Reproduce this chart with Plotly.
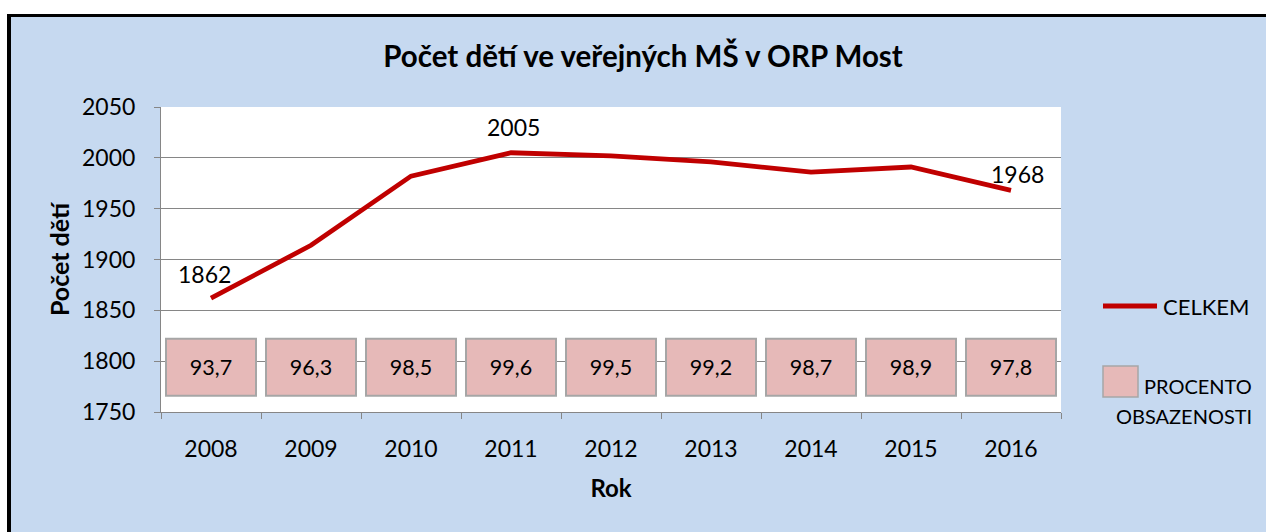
import plotly.graph_objects as go

years = ["2008", "2009", "2010", "2011", "2012", "2013", "2014", "2015", "2016"]
children = [1862, 1914, 1982, 2005, 2002, 1996, 1986, 1991, 1968]
occupancy = [93.7, 96.3, 98.5, 99.6, 99.5, 99.2, 98.7, 98.9, 97.8]
labelled = {"2008": (-7, 24), "2011": (2, 26), "2016": (6, 16)}
box_base = 1766
box_height = 56

FONT = "Lato"
W, H = 1266, 532
L, R, T, B = 161, 1061, 107, 412

def px(x):
    return (x - L) / (R - L)

def py(y):
    return (B - y) / (B - T)

fig = go.Figure()

fig.add_trace(go.Bar(
    x=years,
    y=[box_height] * len(years),
    base=[box_base] * len(years),
    width=0.9,
    marker=dict(color="#E6B9B8", line=dict(color="#A6A6A6", width=2)),
    text=[f"{v:.1f}".replace(".", ",") for v in occupancy],
    textposition="inside",
    insidetextanchor="middle",
    textfont=dict(family=FONT, size=21.5, color="black"),
    name="PROCENTO OBSAZENOSTI",
    showlegend=False,
    hoverinfo="skip",
))

fig.add_trace(go.Scatter(
    x=years,
    y=children,
    mode="lines",
    line=dict(color="#C00000", width=4.8),
    name="CELKEM",
    showlegend=False,
))

shapes = [
    dict(type="rect", xref="paper", yref="paper", x0=px(-5), x1=px(W + 5), y0=py(14), y1=py(-5),
         fillcolor="white", line=dict(width=0), layer="above"),
    dict(type="rect", xref="paper", yref="paper", x0=px(-5), x1=px(7), y0=py(H + 5), y1=py(-5),
         fillcolor="white", line=dict(width=0), layer="above"),
    dict(type="line", xref="paper", yref="paper", x0=px(7), x1=px(W + 5), y0=py(15.5), y1=py(15.5),
         line=dict(color="black", width=3), layer="above"),
    dict(type="line", xref="paper", yref="paper", x0=px(9), x1=px(9), y0=py(14), y1=py(H + 5),
         line=dict(color="black", width=4), layer="above"),
    dict(type="line", xref="paper", yref="paper", x0=px(1103), x1=px(1157), y0=py(306), y1=py(306),
         line=dict(color="#C00000", width=5), layer="above"),
    dict(type="rect", xref="paper", yref="paper", x0=px(1103), x1=px(1138), y0=py(397), y1=py(366),
         fillcolor="#E6B9B8", line=dict(color="#A6A6A6", width=1.5), layer="above"),
]

annotations = [
    dict(text="CELKEM", xref="paper", yref="paper", x=px(1161), y=py(306), xanchor="left", yanchor="middle",
         showarrow=False, font=dict(family=FONT, size=22, color="black")),
    dict(text="PROCENTO", xref="paper", yref="paper", x=px(1142), y=py(386), xanchor="left", yanchor="middle",
         showarrow=False, font=dict(family=FONT, size=20, color="black")),
    dict(text="OBSAZENOSTI", xref="paper", yref="paper", x=px(1184), y=py(416), xanchor="center", yanchor="middle",
         showarrow=False, font=dict(family=FONT, size=20, color="black")),
]

for i, (yr, val) in enumerate(zip(years, children)):
    if yr in labelled:
        dx, dy = labelled[yr]
        annotations.append(dict(text=str(val), x=i, y=val, xref="x", yref="y", showarrow=False,
                                xshift=dx, yshift=dy, font=dict(family=FONT, size=23, color="black")))

fig.update_layout(
    width=W, height=H,
    margin=dict(l=L, r=W - R, t=T, b=H - B),
    paper_bgcolor="#C6D9F0",
    plot_bgcolor="white",
    title=dict(text="<b>Počet dětí ve veřejných MŠ v ORP Most</b>", x=643 / W, xanchor="center", xref="container",
               y=1 - 57 / H, yanchor="middle", font=dict(family=FONT, size=29.5, color="black")),
    shapes=shapes,
    annotations=annotations,
    showlegend=False,
)

fig.update_xaxes(
    type="category",
    range=[-0.5, 8.5],
    tickson="boundaries",
    ticks="outside", ticklen=6, tickcolor="#868686",
    showline=True, linecolor="#868686", linewidth=1,
    showgrid=False,
    ticklabelstandoff=16,
    tickfont=dict(family=FONT, size=23, color="black"),
    title=dict(text="<b>Rok</b>", font=dict(family=FONT, size=24, color="black"), standoff=19),
)

fig.update_yaxes(
    range=[1750, 2050],
    dtick=50,
    ticks="outside", ticklen=6, tickcolor="#868686",
    showline=True, linecolor="#868686", linewidth=1,
    showgrid=True, gridcolor="#868686", gridwidth=1,
    zeroline=False,
    ticklabelstandoff=14,
    tickfont=dict(family=FONT, size=23, color="black"),
    title=dict(text="<b>Počet dětí</b>", font=dict(family=FONT, size=25, color="black"), standoff=5),
)

fig.write_html("out.html", post_script="document.body.style.margin='0';",
               config={"displayModeBar": False})
